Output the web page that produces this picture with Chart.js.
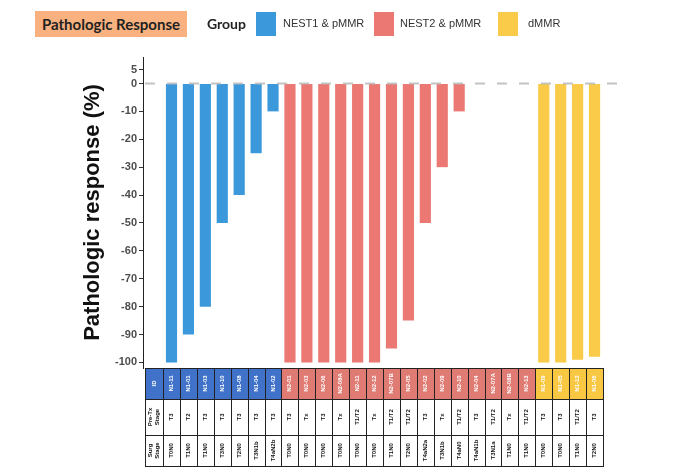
<!DOCTYPE html>
<html><head><meta charset="utf-8">
<script src="https://cdn.jsdelivr.net/npm/chart.js@4.4.0/dist/chart.umd.min.js"></script>
<style>
html,body{margin:0;padding:0;background:#fff;}
#wrap{position:relative;width:680px;height:468px;overflow:hidden;}
#c{position:absolute;left:0;top:0;}
.h{position:absolute;}
#ttl{left:35px;top:11px;width:152px;height:26px;background:#F9B27F;font:bold 15px Lato,"Open Sans",sans-serif;color:#222;line-height:26px;text-align:center;}
#grp{left:207px;top:15px;font:bold 14px Lato,"Open Sans",sans-serif;color:#222;}
.sw{position:absolute;top:12px;width:20px;height:24px;}
.lt{position:absolute;top:17px;font:11px "Liberation Sans",Arial,sans-serif;color:#333;}
</style></head>
<body>
<div id="wrap">
<canvas id="c" width="680" height="468"></canvas>
<div class="h" id="ttl">Pathologic Response</div>
<div class="h" id="grp">Group</div>
<div class="sw" style="left:256px;background:#3B99DB"></div>
<div class="lt" style="left:283px">NEST1 &amp; pMMR</div>
<div class="sw" style="left:374px;background:#EB7872"></div>
<div class="lt" style="left:400px">NEST2 &amp; pMMR</div>
<div class="sw" style="left:498px;background:#F9CB48"></div>
<div class="lt" style="left:528px">dMMR</div>
</div>
<script>
// ---- data ----
const ids = ["N1-11","N1-01","N1-03","N1-10","N1-08","N1-04","N1-02",
  "N2-01","N2-03","N2-06","N2-08A","N2-11","N2-12","N2-07B","N2-05","N2-02","N2-09","N2-10","N2-04","N2-07A","N2-08B","N2-13",
  "N1-09","N1-05","N1-12","N1-06"];
const groups = ["NEST1","NEST1","NEST1","NEST1","NEST1","NEST1","NEST1",
  "NEST2","NEST2","NEST2","NEST2","NEST2","NEST2","NEST2","NEST2","NEST2","NEST2","NEST2","NEST2","NEST2","NEST2","NEST2",
  "dMMR","dMMR","dMMR","dMMR"];
const responses = [-100,-90,-80,-50,-40,-25,-10,
  -100,-100,-100,-100,-100,-100,-95,-85,-50,-30,-10,0,0,0,0,
  -100,-100,-99,-98];
const preTxStage = ["T3","T2","T3","T3","T3","T3","T3",
  "T3","Tx","T3","Tx","T1/T2","Tx","T1/T2","T1/T2","T3","Tx","T1/T2","T3","T1/T2","Tx","T1/T2",
  "T3","T3","T1/T2","T3"];
const surgStage = ["T0N0","T1N0","T1N0","T3N0","T2N0","T3N1b","T4aN2b",
  "T0N0","T0N0","T0N0","T0N0","T0N0","T0N0","T1N0","T2N0","T4aN2a","T3N1b","T4aN0","T4aN1b","T3N1a","T1N0","T1N0",
  "T0N0","T0N0","T1N0","T2N0"];
const yTicks = [5,0,-10,-20,-30,-40,-50,-60,-70,-80,-90,-100];
const groupNames = ["NEST1","NEST2","dMMR"];
const groupLabels = ["NEST1 & pMMR","NEST2 & pMMR","dMMR"];
const barColors = {NEST1:"#3B99DB", NEST2:"#EB7872", dMMR:"#F9CB48"};
const headColors = {NEST1:"#3F72C8", NEST2:"#E07B74", dMMR:"#F8C843"};

const datasets = groupNames.map((g,k)=>({
  label: groupLabels[k],
  data: ids.map((id,i)=>groups[i]===g ? {x:i, y:responses[i]} : null).filter(p=>p),
  backgroundColor: barColors[g],
  borderWidth: 0,
  grouped: false,
  barPercentage: 0.66,
  categoryPercentage: 1
}));

const zeroLine = {
  id:'zeroLine',
  afterDatasetsDraw(chart){
    const {ctx, scales:{y}, chartArea} = chart;
    const py = y.getPixelForValue(0);
    ctx.save();
    ctx.strokeStyle = 'rgba(185,185,185,0.85)';
    ctx.lineWidth = 2;
    ctx.setLineDash([10,12]);
    ctx.beginPath();
    ctx.moveTo(chartArea.left+2, py);
    ctx.lineTo(chartArea.right-2, py);
    ctx.stroke();
    ctx.restore();
  }
};

const tablePlugin = {
  id:'tablePlugin',
  afterDraw(chart){
    const {ctx, scales:{x}, chartArea} = chart;
    const rows = [Math.round(chartArea.bottom), 399, 435, 466];
    const idLeft = 145;
    const edge = i => Math.round(x.getPixelForValue(i-0.5));
    const n = ids.length;
    ctx.save();
    ctx.fillStyle = headColors.NEST1;
    ctx.fillRect(idLeft, rows[0], edge(0)-idLeft, rows[1]-rows[0]);
    for(let i=0;i<n;i++){
      ctx.fillStyle = headColors[groups[i]];
      ctx.fillRect(edge(i), rows[0], edge(i+1)-edge(i), rows[1]-rows[0]);
    }
    const txt = (lines, cx, cy, color, font) => {
      ctx.save();
      ctx.translate(cx, cy);
      ctx.rotate(-Math.PI/2);
      ctx.fillStyle = color;
      ctx.font = font;
      ctx.textAlign = 'center';
      ctx.textBaseline = 'middle';
      const lh = 7;
      lines.forEach((l,k)=>ctx.fillText(l, 0, (k-(lines.length-1)/2)*lh));
      ctx.restore();
    };
    const f = 'bold 6px "Liberation Sans", Arial, sans-serif';
    const idc = (idLeft+edge(0))/2;
    txt(["ID"], idc, (rows[0]+rows[1])/2, '#fff', f);
    txt(["Pre-Tx","Stage"], idc, (rows[1]+rows[2])/2, '#111', f);
    txt(["Surg","Stage"], idc, (rows[2]+rows[3])/2, '#111', f);
    for(let i=0;i<n;i++){
      const cx = (edge(i)+edge(i+1))/2;
      txt([ids[i]], cx, (rows[0]+rows[1])/2, '#fff', f);
      txt([preTxStage[i]], cx, (rows[1]+rows[2])/2, '#111', f);
      txt([surgStage[i]], cx, (rows[2]+rows[3])/2, '#111', f);
    }
    ctx.strokeStyle = '#222';
    ctx.lineWidth = 1;
    ctx.beginPath();
    rows.forEach(r=>{ ctx.moveTo(idLeft, r+0.5); ctx.lineTo(edge(n), r+0.5); });
    ctx.moveTo(idLeft+0.5, rows[0]); ctx.lineTo(idLeft+0.5, rows[3]+1);
    for(let i=0;i<=n;i++){ const e=edge(i)+0.5; ctx.moveTo(e, rows[0]); ctx.lineTo(e, rows[3]+1); }
    ctx.stroke();
    ctx.restore();
  }
};

new Chart(document.getElementById('c'), {
  type:'bar',
  data:{ datasets },
  options:{
    responsive:false,
    animation:false,
    layout:{ padding:{ top:57, bottom:100, left:0, right:55 } },
    plugins:{ legend:{display:false}, tooltip:{enabled:false} },
    scales:{
      x:{ type:'linear', offset:false, min:-1.684, max:26.8, display:false, grid:{offset:false} },
      y:{
        min:-102, max:9.5,
        afterBuildTicks(s){ s.ticks = yTicks.map(v=>({value:v})); },
        afterFit(s){ s.width = 143; },
        ticks:{ font:{family:'"Liberation Sans", Arial, sans-serif', size:11, weight:'bold'}, color:'#4d4d4d', padding:2 },
        grid:{ drawOnChartArea:false, tickLength:4, color:'#333' },
        border:{ color:'#222', width:1 },
        title:{ display:true, text:'Pathologic response (%)', color:'#111',
          font:{family:'"Liberation Sans", Arial, sans-serif', size:22, weight:'bold'},
          padding:{top:80, bottom:0} }
      }
    }
  },
  plugins:[zeroLine, tablePlugin]
});
</script>
</body></html>
